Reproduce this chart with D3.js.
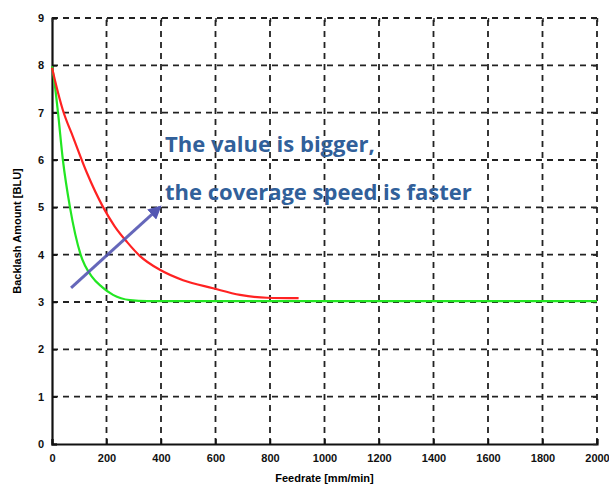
<!DOCTYPE html>
<html><head><meta charset="utf-8">
<script src="https://cdn.jsdelivr.net/npm/d3@7"></script>
<style>html,body{margin:0;padding:0;background:#fff;}svg{display:block;}</style>
</head><body><svg id="c" width="609" height="489"></svg>
<script>
const xTicks = [0,200,400,600,800,1000,1200,1400,1600,1800,2000];
const yTicks = [0,1,2,3,4,5,6,7,8,9];
const redFeed = [0,11,40,77,128,187,230,275,323,396,481,591,690,789,905];
const redVal  = [7.95,7.68,7.05,6.49,5.73,5.01,4.6,4.27,3.97,3.68,3.46,3.29,3.15,3.09,3.08];
const greenFeed = [0,10,22,40,66,105,147,183,224,286,350,600,1000,1500,2000];
const greenVal  = [7.98,7.6,7.0,6.0,5.0,4.0,3.53,3.32,3.15,3.04,3.02,3.02,3.02,3.02,3.02];
const arrowFrom = [70,3.3];  // feed, value
const arrowTo = [395,5.0];
const noteLines = ["The value is bigger,","the coverage speed is faster"];
const xTitle = "Feedrate [mm/min]";
const yTitle = "Backlash Amount [BLU]";

const svg = d3.select("#c");
const L=52,R=597,T=18,B=444;
const x = d3.scaleLinear().domain([0,2000]).range([L,R]);
const y = d3.scaleLinear().domain([0,9]).range([B,T]);

// grid
const g = svg.append("g");
g.selectAll("line.vx").data(xTicks.slice(1)).join("line")
  .attr("x1",d=>x(d)).attr("x2",d=>x(d)).attr("y1",B).attr("y2",T)
  .attr("stroke","#222").attr("stroke-width",1.8).attr("stroke-dasharray","6,5");
g.selectAll("line.hy").data(yTicks.slice(1)).join("line")
  .attr("y1",d=>y(d)).attr("y2",d=>y(d)).attr("x1",L).attr("x2",R)
  .attr("stroke","#222").attr("stroke-width",1.8).attr("stroke-dasharray","6,5");

// axes
const xa = svg.append("g").attr("transform",`translate(0,${B})`)
  .call(d3.axisBottom(x).tickValues(xTicks).tickSize(-5).tickPadding(10).tickFormat(d3.format("d")));
const ya = svg.append("g").attr("transform",`translate(${L},0)`)
  .call(d3.axisLeft(y).tickValues(yTicks).tickSize(-5).tickPadding(8).tickFormat(d3.format("d")));
const xt = svg.append("g").attr("transform",`translate(0,${T})`)
  .call(d3.axisTop(x).tickValues(xTicks).tickSize(-4).tickFormat(""));
const yr = svg.append("g").attr("transform",`translate(${R},0)`)
  .call(d3.axisRight(y).tickValues(yTicks).tickSize(-4).tickFormat(""));
[xt,yr].forEach(a=>{
  a.select(".domain").remove();
  a.selectAll(".tick line").attr("stroke","#222").attr("stroke-width",1.4);
});
[xa,ya].forEach(a=>{
  a.select(".domain").attr("stroke","#111").attr("stroke-width",2.2);
  a.selectAll(".tick line").attr("stroke","#111").attr("stroke-width",1.5);
  a.selectAll("text").attr("font-family","Liberation Sans, Arial, sans-serif")
    .attr("font-size",11).attr("font-weight","bold").attr("fill","#111");
});

// titles
svg.append("text").attr("x",(L+R)/2).attr("y",482).attr("text-anchor","middle")
  .attr("font-family","Liberation Sans, Arial, sans-serif").attr("font-size",11).attr("font-weight","bold")
  .text(xTitle);
svg.append("text").attr("transform",`translate(21,${(T+B)/2}) rotate(-90)`).attr("text-anchor","middle")
  .attr("font-family","Liberation Sans, Arial, sans-serif").attr("font-size",11).attr("font-weight","bold")
  .text(yTitle);

// curves
const line = d3.line().x(d=>x(d[0])).y(d=>y(d[1])).curve(d3.curveMonotoneX);
svg.append("path").datum(greenFeed.map((f,i)=>[f,greenVal[i]])).attr("d",line)
  .attr("fill","none").attr("stroke","#22e622").attr("stroke-width",2.2);
svg.append("path").datum(redFeed.map((f,i)=>[f,redVal[i]])).attr("d",line)
  .attr("fill","none").attr("stroke","#ff2222").attr("stroke-width",2.2);

// arrow
const defs = svg.append("defs");
defs.append("marker").attr("id","ah").attr("viewBox","0 0 10 10").attr("refX",8).attr("refY",5)
  .attr("markerWidth",4.5).attr("markerHeight",4.5).attr("orient","auto")
  .append("path").attr("d","M0,0L10,5L0,10z").attr("fill","#5457b3");
svg.append("line").attr("x1",x(arrowFrom[0])).attr("y1",y(arrowFrom[1]))
  .attr("x2",x(arrowTo[0])).attr("y2",y(arrowTo[1]))
  .attr("stroke","#5457b3").attr("stroke-width",3).attr("stroke-opacity",0.9).attr("marker-end","url(#ah)");

// note
const nt = svg.append("g");
const t1 = nt.append("text").attr("x",165).attr("y",152).text(noteLines[0]);
const t2 = nt.append("text").attr("x",165).attr("y",200).text(noteLines[1]);
nt.selectAll("text").attr("font-family","Open Sans, sans-serif").attr("font-weight","bold")
  .attr("font-size",20).attr("fill","#31609a");
const w = t2.node().getComputedTextLength();
nt.selectAll("text").attr("font-size",20*307/w);
</script></body></html>
